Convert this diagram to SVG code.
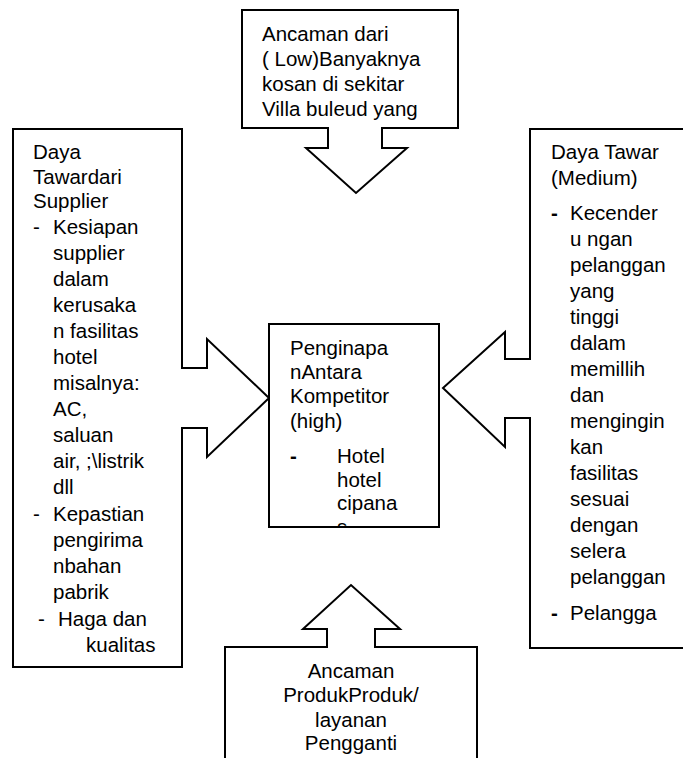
<svg xmlns="http://www.w3.org/2000/svg" width="683" height="758" viewBox="0 0 683 758">
<style>
.s{fill:#fff;stroke:#000;stroke-width:2;stroke-linejoin:miter}
text{font-family:"Liberation Sans",Arial,sans-serif;font-size:20.5px;fill:#000}
.m{text-anchor:middle}
.b{font-weight:bold}
</style>
<defs>
<clipPath id="cc"><rect x="270" y="325" width="168" height="202"/></clipPath>
</defs>
<rect width="683" height="758" fill="#fff"/>
<g id="top">
<path class="s" d="M242,10 H458 V128 H382 V148 H407 L356,193 L306,148 H328 V128 H242 Z"/>
<text x="262" y="41">Ancaman dari</text>
<text x="262" y="66">( Low)Banyaknya</text>
<text x="262" y="91">kosan di sekitar</text>
<text x="262" y="116">Villa buleud yang</text>
</g>
<g id="left">
<path class="s" d="M13,129 H182 V368 H207 V339 L269,398 L207,457 V428 H182 V667 H13 Z"/>
<text x="33" y="159">Daya</text>
<text x="33" y="184">Tawardari</text>
<text x="33" y="208">Supplier</text>
<text x="33" y="234">-</text><text x="53" y="234">Kesiapan</text>
<text x="53" y="260">supplier</text>
<text x="53" y="286">dalam</text>
<text x="53" y="312">kerusaka</text>
<text x="53" y="338">n fasilitas</text>
<text x="53" y="364">hotel</text>
<text x="53" y="390">misalnya:</text>
<text x="53" y="416">AC,</text>
<text x="53" y="442">saluan</text>
<text x="53" y="468">air, ;\listrik</text>
<text x="53" y="494">dll</text>
<text x="33" y="521">-</text><text x="53" y="521">Kepastian</text>
<text x="53" y="547">pengirima</text>
<text x="53" y="573">nbahan</text>
<text x="53" y="599">pabrik</text>
<text x="38" y="626">-</text><text x="58" y="626">Haga dan</text>
<text x="86" y="652">kualitas</text>
</g>
<g id="right">
<path class="s" d="M700,129 H530 V359 H505 V332 L443,388 L505,447 V418 H530 V648 H700"/>
<text x="551" y="159">Daya Tawar</text>
<text x="551" y="185">(Medium)</text>
<text class="b" x="551" y="220">-</text><text x="570" y="220">Kecender</text>
<text x="570" y="246">u ngan</text>
<text x="570" y="272">pelanggan</text>
<text x="570" y="298">yang</text>
<text x="570" y="324">tinggi</text>
<text x="570" y="350">dalam</text>
<text x="570" y="376">memillih</text>
<text x="570" y="402">dan</text>
<text x="570" y="428">mengingin</text>
<text x="570" y="454">kan</text>
<text x="570" y="480">fasilitas</text>
<text x="570" y="506">sesuai</text>
<text x="570" y="532">dengan</text>
<text x="570" y="558">selera</text>
<text x="570" y="584">pelanggan</text>
<text class="b" x="551" y="620">-</text><text x="570" y="620">Pelangga</text>
</g>
<g id="center">
<rect class="s" x="269" y="324" width="170" height="203"/>
<g clip-path="url(#cc)">
<text x="290" y="355">Penginapa</text>
<text x="290" y="379">nAntara</text>
<text x="290" y="403">Kompetitor</text>
<text x="290" y="428">(high)</text>
<text class="b" x="290" y="463">-</text><text x="337" y="463">Hotel</text>
<text x="337" y="487">hotel</text>
<text x="337" y="510">cipana</text>
<text x="337" y="534">s</text>
</g>
</g>
<g id="bottom">
<path class="s" d="M225,770 V647 H327 V629 H303 L351,585 L400,629 H375 V647 H477 V770"/>
<text class="m" x="351" y="678">Ancaman</text>
<text class="m" x="351" y="702">ProdukProduk/</text>
<text class="m" x="351" y="727">layanan</text>
<text class="m" x="351" y="750">Pengganti</text>
</g>
<g id="connectors"></g>
</svg>
